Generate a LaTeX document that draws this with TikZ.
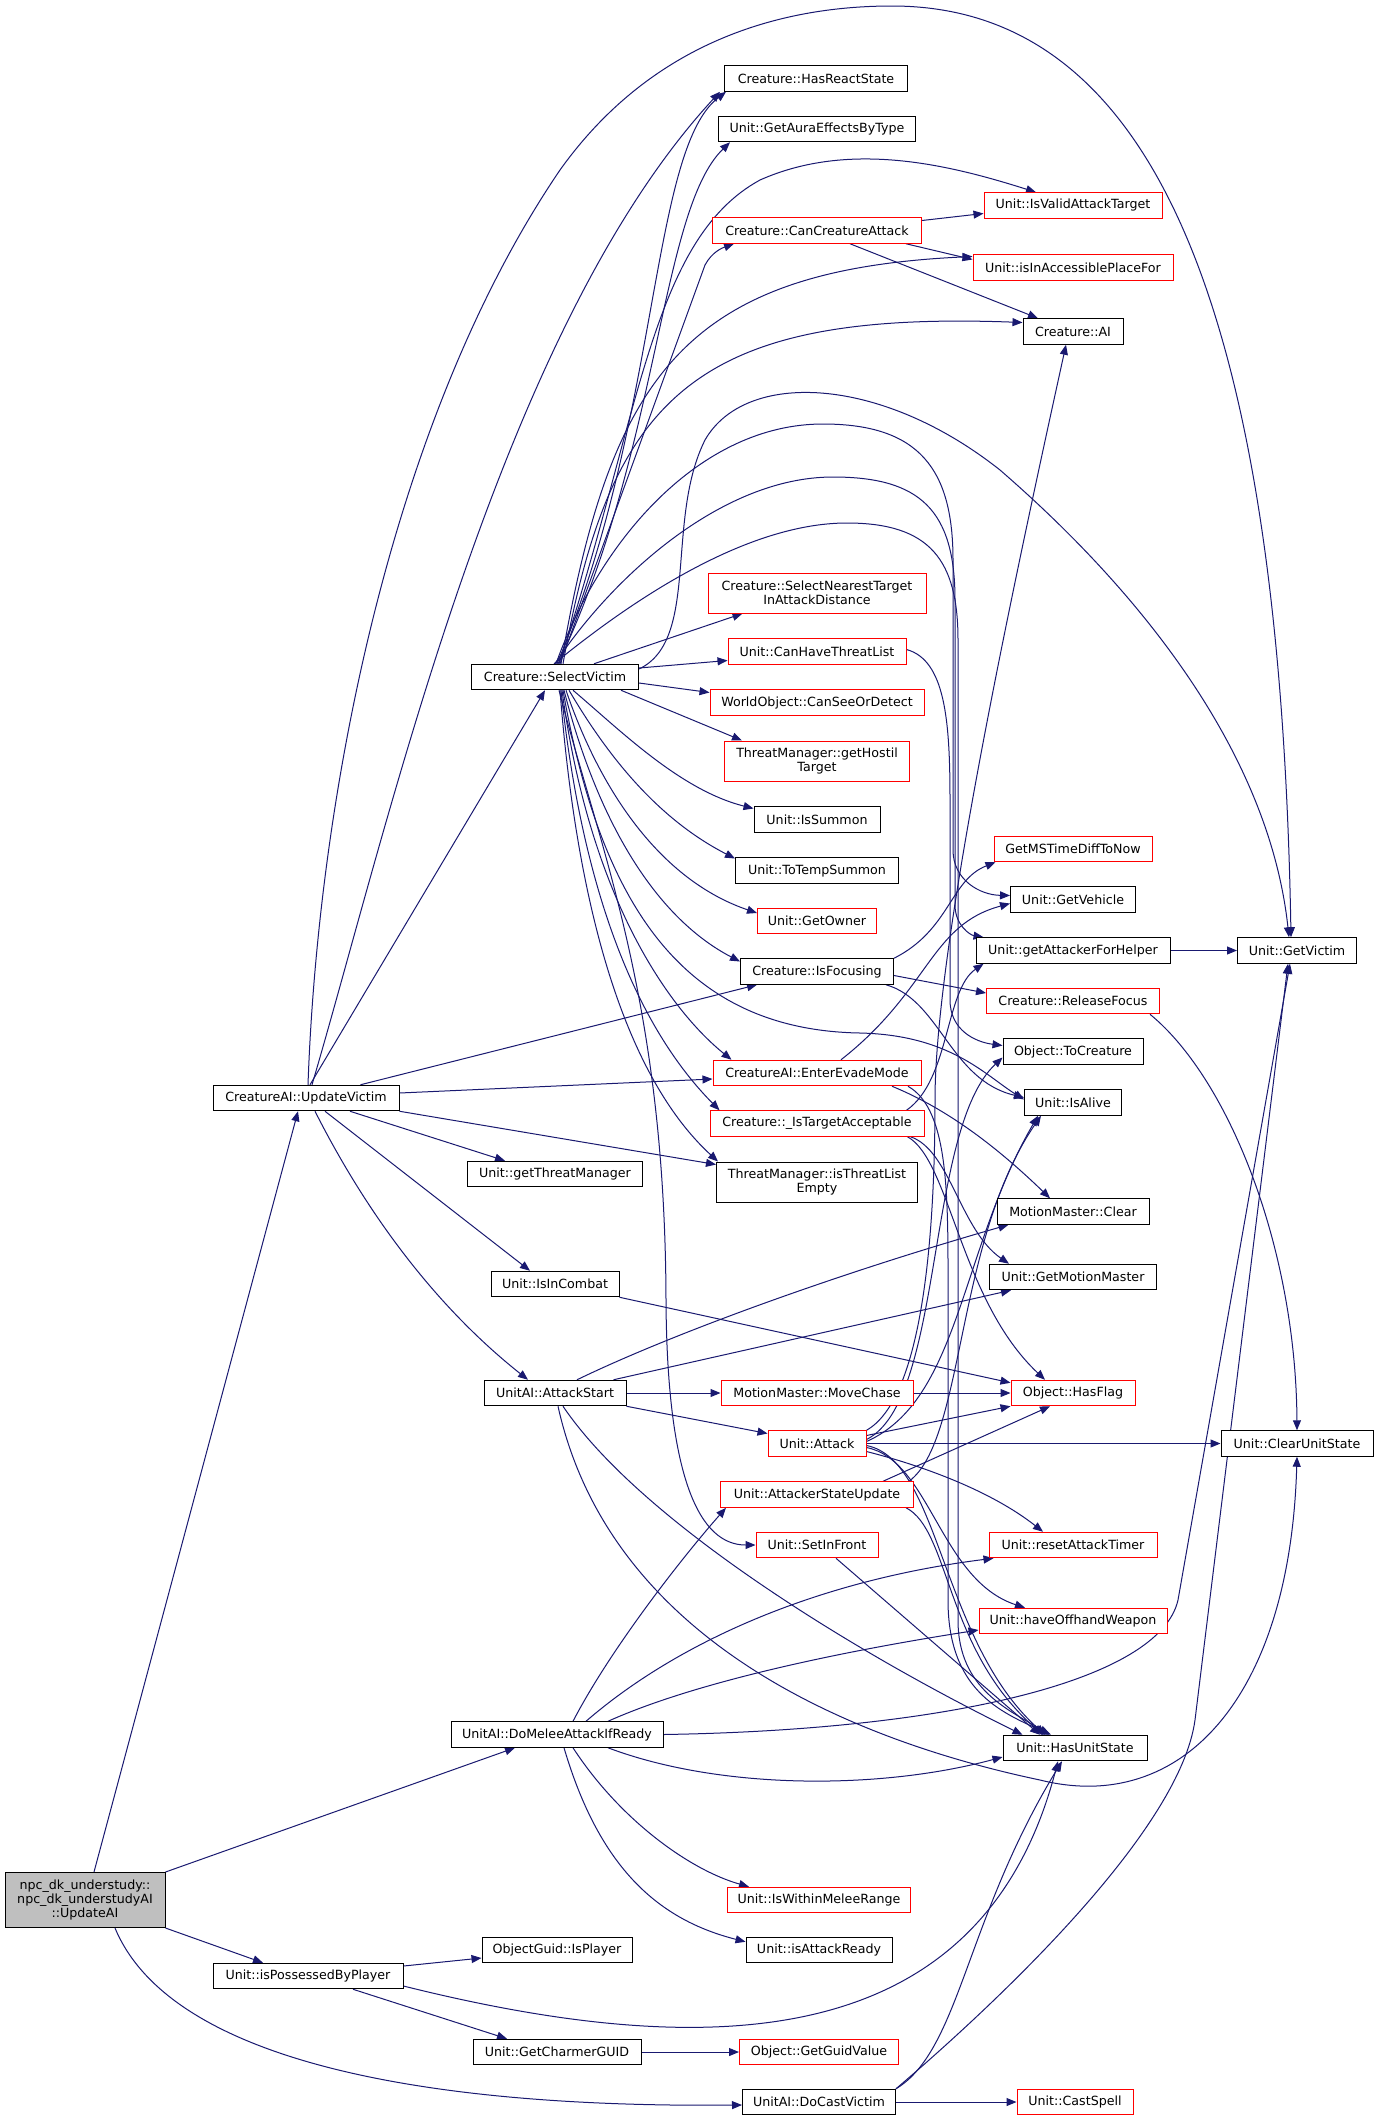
\documentclass[tikz,border=0pt]{standalone}
\usepackage{fontspec}
\setmainfont{DejaVu Sans}
\usetikzlibrary{arrows.meta}
\definecolor{edgec}{HTML}{191970}
\definecolor{greyfill}{HTML}{BFBFBF}
\pgfdeclarelayer{background}
\pgfsetlayers{background,main}
\begin{document}
\begin{tikzpicture}[x=1pt,y=-1pt,
  box/.style={draw=black, line width=1pt, fill=white, inner sep=0pt, minimum height=25.5pt, font=\fontsize{12.65}{14.3}\selectfont, align=center},
  rbox/.style={box, draw=red},
  edge/.style={draw=edgec, line width=1pt, -{Triangle[length=10pt,width=8pt]}}]
\useasboundingbox (0,0) rectangle (1375,2121);

\node[box, minimum width=183pt] (hrs) at (816,78.5) {Creature::HasReactState};
\node[box, minimum width=197pt] (gaebt) at (817,129) {Unit::GetAuraEffectsByType};
\node[rbox, minimum width=178pt] (ivat) at (1073,205.5) {Unit::IsValidAttackTarget};
\node[rbox, minimum width=209pt] (cca) at (817,230.5) {Creature::CanCreatureAttack};
\node[rbox, minimum width=200pt] (iiapf) at (1073,267.5) {Unit::isInAccessiblePlaceFor};
\node[box, minimum width=100pt] (cai) at (1073,331.5) {Creature::AI};
\node[rbox, minimum width=218pt, minimum height=40pt] (sntiad) at (817,593) {Creature::SelectNearestTarget\\InAttackDistance};
\node[rbox, minimum width=178pt] (chtl) at (817,651.5) {Unit::CanHaveThreatList};
\node[rbox, minimum width=214pt] (csod) at (817,702.5) {WorldObject::CanSeeOrDetect};
\node[rbox, minimum width=185pt, minimum height=40pt] (ght) at (817,761) {ThreatManager::getHostil\\Target};
\node[box, minimum width=126pt] (issum) at (817,819.5) {Unit::IsSummon};
\node[box, minimum width=163pt] (tts) at (817,870.5) {Unit::ToTempSummon};
\node[rbox, minimum width=119pt] (gown) at (817,921) {Unit::GetOwner};
\node[box, minimum width=153pt] (isfoc) at (817,971.5) {Creature::IsFocusing};
\node[rbox, minimum width=158pt] (gmst) at (1073,849) {GetMSTimeDiffToNow};
\node[box, minimum width=125pt] (gveh) at (1073,899.5) {Unit::GetVehicle};
\node[box, minimum width=194pt] (gafh) at (1073,950.5) {Unit::getAttackerForHelper};
\node[box, minimum width=119pt] (gvic) at (1297,950.5) {Unit::GetVictim};
\node[rbox, minimum width=173pt] (relf) at (1073,1001) {Creature::ReleaseFocus};
\node[box, minimum width=140pt] (tocr) at (1073,1051.5) {Object::ToCreature};
\node[box, minimum width=97pt] (alive) at (1073,1102.5) {Unit::IsAlive};
\node[rbox, minimum width=208pt] (eem) at (817,1073) {CreatureAI::EnterEvadeMode};
\node[rbox, minimum width=214pt] (ita) at (817,1123.5) {Creature::\_IsTargetAcceptable};
\node[box, minimum width=201pt, minimum height=40pt] (itle) at (817,1182) {ThreatManager::isThreatList\\Empty};
\node[box, minimum width=152pt] (mmclr) at (1073,1211.5) {MotionMaster::Clear};
\node[box, minimum width=167pt] (gmm) at (1073,1277) {Unit::GetMotionMaster};
\node[rbox, minimum width=192pt] (mvch) at (817,1393) {MotionMaster::MoveChase};
\node[rbox, minimum width=124pt] (hflag) at (1073,1393) {Object::HasFlag};
\node[rbox, minimum width=98pt] (att) at (817,1443.5) {Unit::Attack};
\node[box, minimum width=152pt] (cus) at (1297,1443.5) {Unit::ClearUnitState};
\node[rbox, minimum width=193pt] (asu) at (817,1494.5) {Unit::AttackerStateUpdate};
\node[rbox, minimum width=122pt] (sif) at (817,1545) {Unit::SetInFront};
\node[rbox, minimum width=168pt] (rat) at (1073,1545) {Unit::resetAttackTimer};
\node[rbox, minimum width=188pt] (how) at (1073,1621) {Unit::haveOffhandWeapon};
\node[box, minimum width=212pt] (dmaif) at (557,1734.5) {UnitAI::DoMeleeAttackIfReady};
\node[box, minimum width=144pt] (hus) at (1075,1748) {Unit::HasUnitState};
\node[box, fill=greyfill, minimum width=160pt, minimum height=55pt] (root) at (85,1900) {npc\_dk\_understudy::\\npc\_dk\_understudyAI\\::UpdateAI};
\node[rbox, minimum width=183pt] (iwmr) at (819,1900) {Unit::IsWithinMeleeRange};
\node[box, minimum width=150pt] (isply) at (557,1950) {ObjectGuid::IsPlayer};
\node[box, minimum width=146pt] (iar) at (819,1950) {Unit::isAttackReady};
\node[box, minimum width=190pt] (ipbp) at (308,1976) {Unit::isPossessedByPlayer};
\node[box, minimum width=168pt] (gcg) at (557,2052) {Unit::GetCharmerGUID};
\node[rbox, minimum width=159pt] (ggv) at (819,2052) {Object::GetGuidValue};
\node[box, minimum width=153pt] (dcv) at (819,2102) {UnitAI::DoCastVictim};
\node[rbox, minimum width=116pt] (cspell) at (1075,2102) {Unit::CastSpell};
\node[box, minimum width=167pt] (sv) at (555,677) {Creature::SelectVictim};
\node[box, minimum width=186pt] (uv) at (306,1098) {CreatureAI::UpdateVictim};
\node[box, minimum width=175pt] (gtm) at (555,1174) {Unit::getThreatManager};
\node[box, minimum width=128pt] (iic) at (555,1284) {Unit::IsInCombat};
\node[box, minimum width=142pt] (ast) at (555,1393) {UnitAI::AttackStart};

\begin{pgfonlayer}{background}
\fill[white] (0,0) rectangle (1375,2121);
% root
\draw[edge] ([xshift=9pt]root.north) -- ([xshift=-8pt]uv.south);
\draw[edge] (root.north east) -- ([xshift=-42pt]dmaif.south);
\draw[edge] (root.south east) -- ([xshift=-45pt]ipbp.north);
\draw[edge] ([xshift=30pt]root.south) .. controls (170,2060) and (420,2108) .. ([yshift=-3pt]dcv.west);
% isPossessedByPlayer
\draw[edge] ([yshift=10pt]ipbp.east) -- ([yshift=-8pt]isply.west);
\draw[edge] ([xshift=45pt]ipbp.south) -- ([xshift=-50pt]gcg.north);
\draw[edge] ([yshift=-10pt]ipbp.east) .. controls (700,2060) and (980,2060) .. ([xshift=-17pt]hus.south);
\draw[edge] (gcg.east) -- (ggv.west);
% DoCastVictim
\draw[edge] (dcv.east) -- (cspell.west);
\draw[edge] (dcv.north east) .. controls (960,2050) and (965,1920) .. ([xshift=-13pt]hus.south);
\draw[edge] (dcv.north east) .. controls (1000,2000) and (1180,1830) .. (1195,1720) -- ([xshift=-9pt]gvic.south);
% DoMeleeAttackIfReady
\draw[edge] ([xshift=16pt]dmaif.south) .. controls (620,1820) and (690,1870) .. ([xshift=22pt]iwmr.north west);
\draw[edge] ([xshift=7pt]dmaif.south) .. controls (600,1870) and (660,1920) .. ([yshift=-5pt]iar.north west);
\draw[edge] ([xshift=51pt]dmaif.south) .. controls (720,1790) and (880,1790) .. ([yshift=-9pt]hus.west);
\draw[edge] (dmaif.east) .. controls (950,1730) and (1160,1680) .. (1178,1600) -- ([xshift=-7pt]gvic.south);
\draw[edge] ([xshift=16pt]dmaif.north) .. controls (610,1650) and (680,1560) .. ([xshift=6pt]asu.south west);
\draw[edge] ([xshift=29pt]dmaif.north) .. controls (680,1640) and (820,1580) .. ([xshift=5pt]rat.south west);
\draw[edge] ([xshift=51pt]dmaif.north) .. controls (700,1680) and (850,1650) .. ([yshift=-9pt]how.west);
% AttackStart
\draw[edge] (ast.east) -- (mvch.west);
\draw[edge] ([xshift=22pt]ast.north) .. controls (680,1330) and (850,1270) .. ([xshift=12pt]mmclr.south west);
\draw[edge] ([xshift=-13pt]ast.north east) -- ([xshift=22pt]gmm.south west);
\draw[edge] (ast.south east) -- ([yshift=10pt]att.west);
\draw[edge] ([xshift=8pt]ast.south) .. controls (640,1520) and (850,1650) .. ([xshift=20pt]hus.north west);
\draw[edge] ([xshift=3pt]ast.south) .. controls (610,1640) and (850,1740) .. (1040,1780) .. controls (1180,1815) and (1290,1700) .. (cus.south);
% UpdateVictim
\draw[edge] ([xshift=4pt]uv.north) -- ([xshift=-10pt]sv.south);
\draw[edge] ([xshift=6pt]uv.north) .. controls (390,820) and (500,330) .. ([xshift=-4pt]hrs.south west);
\draw[edge] ([xshift=2pt]uv.north) .. controls (318,800) and (390,420) .. (560,170) .. controls (660,30) and (800,6) .. (892,6) .. controls (1150,6) and (1280,300) .. ([xshift=-6pt]gvic.north);
\draw[edge] ([xshift=-39pt]uv.north east) -- ([xshift=17pt]isfoc.south west);
\draw[edge] ([yshift=5pt]uv.east) -- ([yshift=-6pt]eem.west);
\draw[edge] (uv.south east) -- ([yshift=-3pt]itle.north west);
\draw[edge] ([xshift=44pt]uv.south) -- ([xshift=-50pt]gtm.north);
\draw[edge] ([xshift=19pt]uv.south) -- ([xshift=-25pt]iic.north);
\draw[edge] ([xshift=9pt]uv.south) .. controls (370,1220) and (440,1310) .. ([xshift=-27pt]ast.north);
% IsInCombat, MoveChase, Attack
\draw[edge] (iic.south east) -- ([yshift=-3pt]hflag.north west);
\draw[edge] (mvch.east) -- (hflag.west);
\draw[edge] ([yshift=8pt]att.east) -- (hflag.south west);
\draw[edge] (att.east) -- (cus.west);
\draw[edge] ([yshift=-8pt]att.east) .. controls (920,1465) and (990,1490) .. ([xshift=-30pt]rat.north);
\draw[edge] ([yshift=-4pt]att.east) .. controls (930,1460) and (940,1580) .. ([xshift=-48pt]how.north);
\draw[edge] ([yshift=-2pt]att.east) .. controls (940,1460) and (940,1640) .. ([xshift=-30pt]hus.north);
\draw[edge] ([yshift=2pt]att.east) .. controls (960,1400) and (960,1250) .. ([xshift=-35pt]alive.south);
\draw[edge] ([yshift=4pt]att.east) .. controls (945,1400) and (925,1130) .. ([yshift=-6pt]tocr.west);
\draw[edge] (att.north east) .. controls (920,1400) and (935,1250) .. (935,1100) .. controls (935,950) and (1010,600) .. ([xshift=-7pt]cai.south);
% AttackerStateUpdate, SetInFront
\draw[edge] ([xshift=-31pt]asu.north east) -- ([xshift=-23pt]hflag.south);
\draw[edge] ([xshift=-8pt]asu.south east) .. controls (950,1530) and (945,1650) .. ([xshift=-32pt]hus.north);
\draw[edge] ([xshift=-5pt]asu.north east) .. controls (965,1440) and (955,1240) .. ([xshift=-32pt]alive.south);
\draw[edge] ([xshift=19pt]sif.south) -- ([xshift=-35pt]hus.north);
% IsFocusing, ReleaseFocus, getAttackerForHelper
\draw[edge] (isfoc.north east) .. controls (950,930) and (950,880) .. ([xshift=2pt]gmst.south west);
\draw[edge] ([yshift=-4pt]isfoc.east) -- ([yshift=8pt]relf.west);
\draw[edge] ([xshift=-8pt]isfoc.south east) .. controls (940,1000) and (950,1080) .. ([yshift=5pt]alive.west);
\draw[edge] ([xshift=-10pt]relf.south east) .. controls (1230,1080) and (1296,1250) .. (cus.north);
\draw[edge] (gafh.east) -- (gvic.west);
% CanCreatureAttack
\draw[edge] ([yshift=10pt]cca.east) -- ([yshift=-8pt]ivat.west);
\draw[edge] ([xshift=-16pt]cca.south east) -- ([yshift=8pt]iiapf.west);
\draw[edge] ([xshift=33pt]cca.south) -- ([xshift=-35pt]cai.north);
% SelectVictim upward fan
\draw[edge] ([xshift=2pt]sv.north) .. controls (660,420) and (650,150) .. ([xshift=2pt]hrs.south west);
\draw[edge] ([xshift=3pt]sv.north) .. controls (660,450) and (660,210) .. ([xshift=12pt]gaebt.south west);
\draw[edge] ([xshift=4pt]sv.north) .. controls (640,420) and (650,240) .. (760,180) .. controls (850,140) and (950,165) .. ([xshift=-37pt]ivat.north);
\draw[edge] ([xshift=5pt]sv.north) -- (705,265) .. controls (712,252) and (722,248) .. ([xshift=22pt]cca.south west);
\draw[edge] ([xshift=6pt]sv.north) .. controls (610,380) and (680,270) .. ([yshift=11pt]iiapf.west);
\draw[edge] ([xshift=8pt]sv.north) .. controls (610,400) and (690,310) .. ([yshift=9pt]cai.west);
\draw[edge] ([yshift=8pt]sv.east) .. controls (700,640) and (665,520) .. (705,440) .. controls (745,370) and (880,375) .. (1000,470) .. controls (1150,600) and (1270,760) .. ([xshift=-8pt]gvic.north);
\draw[edge] ([xshift=1pt]sv.north) .. controls (600,540) and (700,424) .. (823,424) .. controls (920,424) and (953,470) .. (953,560) -- (953,850) .. controls (953,880) and (980,895) .. ([yshift=4pt]gveh.west);
\draw[edge] (sv.north) .. controls (610,580) and (720,477) .. (833,477) .. controls (920,477) and (955,510) .. (955,600) -- (955,905) .. controls (955,925) and (970,935) .. ([xshift=8pt]gafh.north west);
\draw[edge] ([xshift=-1pt]sv.north) .. controls (620,610) and (740,523) .. (847,523) .. controls (930,523) and (958,560) .. (958,640) -- (958,1620) .. controls (958,1690) and (1010,1710) .. ([xshift=-26pt]hus.north);
% SelectVictim right fan
\draw[edge] ([xshift=-45pt]sv.north east) -- ([xshift=35pt]sntiad.south west);
\draw[edge] ([yshift=9pt]sv.east) -- ([yshift=-9pt]chtl.west);
\draw[edge] ([yshift=-6pt]sv.east) -- ([yshift=10pt]csod.west);
\draw[edge] ([xshift=-18pt]sv.south east) -- ([xshift=18pt]ght.north west);
\draw[edge] ([xshift=18pt]sv.south) .. controls (620,730) and (680,790) .. ([yshift=11pt]issum.west);
\draw[edge] ([xshift=14pt]sv.south) .. controls (610,760) and (660,820) .. ([yshift=12pt]tts.west);
\draw[edge] ([xshift=11pt]sv.south) .. controls (600,790) and (660,880) .. ([yshift=8pt]gown.west);
\draw[edge] ([xshift=9pt]sv.south) .. controls (600,830) and (660,920) .. ([yshift=10pt]isfoc.west);
\draw[edge] ([xshift=8pt]sv.south) .. controls (600,900) and (680,1030) .. (860,1033) .. controls (950,1035) and (985,1075) .. ([yshift=3pt]alive.west);
\draw[edge] ([xshift=7pt]sv.south) .. controls (590,900) and (670,1010) .. ([xshift=19pt]eem.north west);
\draw[edge] ([xshift=6pt]sv.south) .. controls (585,920) and (650,1040) .. ([xshift=10pt]ita.north west);
\draw[edge] ([xshift=5pt]sv.south) .. controls (580,950) and (640,1090) .. ([xshift=2pt]itle.north west);
\draw[edge] ([xshift=4pt]sv.south) .. controls (600,850) and (665,1000) .. (666,1300) .. controls (667,1480) and (700,1545) .. (sif.west);
% CanHaveThreatList
\draw[edge] ([yshift=2pt]chtl.east) .. controls (945,660) and (950,720) .. (950,800) -- (950,1000) .. controls (950,1030) and (975,1042) .. ([yshift=6pt]tocr.west);
% EnterEvadeMode
\draw[edge] ([xshift=24pt]eem.north) .. controls (930,990) and (930,925) .. ([yshift=-4pt]gveh.west);
\draw[edge] ([xshift=75pt]eem.south) .. controls (950,1110) and (1000,1150) .. ([xshift=-23pt]mmclr.north);
\draw[edge] ([xshift=91pt]eem.south) .. controls (950,1110) and (948,1200) .. (948,1300) -- (948,1600) .. controls (948,1690) and (1000,1712) .. ([xshift=-24pt]hus.north);
% _IsTargetAcceptable
\draw[edge] ([xshift=-18pt]ita.north east) .. controls (950,1080) and (945,990) .. ([xshift=8pt]gafh.south west);
\draw[edge] ([xshift=-17pt]ita.south east) .. controls (950,1160) and (960,1300) .. ([xshift=-28pt]hflag.north);
\draw[edge] ([xshift=-14pt]ita.south east) .. controls (950,1150) and (960,1230) .. ([xshift=20pt]gmm.north west);
\end{pgfonlayer}
\end{tikzpicture}
\end{document}
